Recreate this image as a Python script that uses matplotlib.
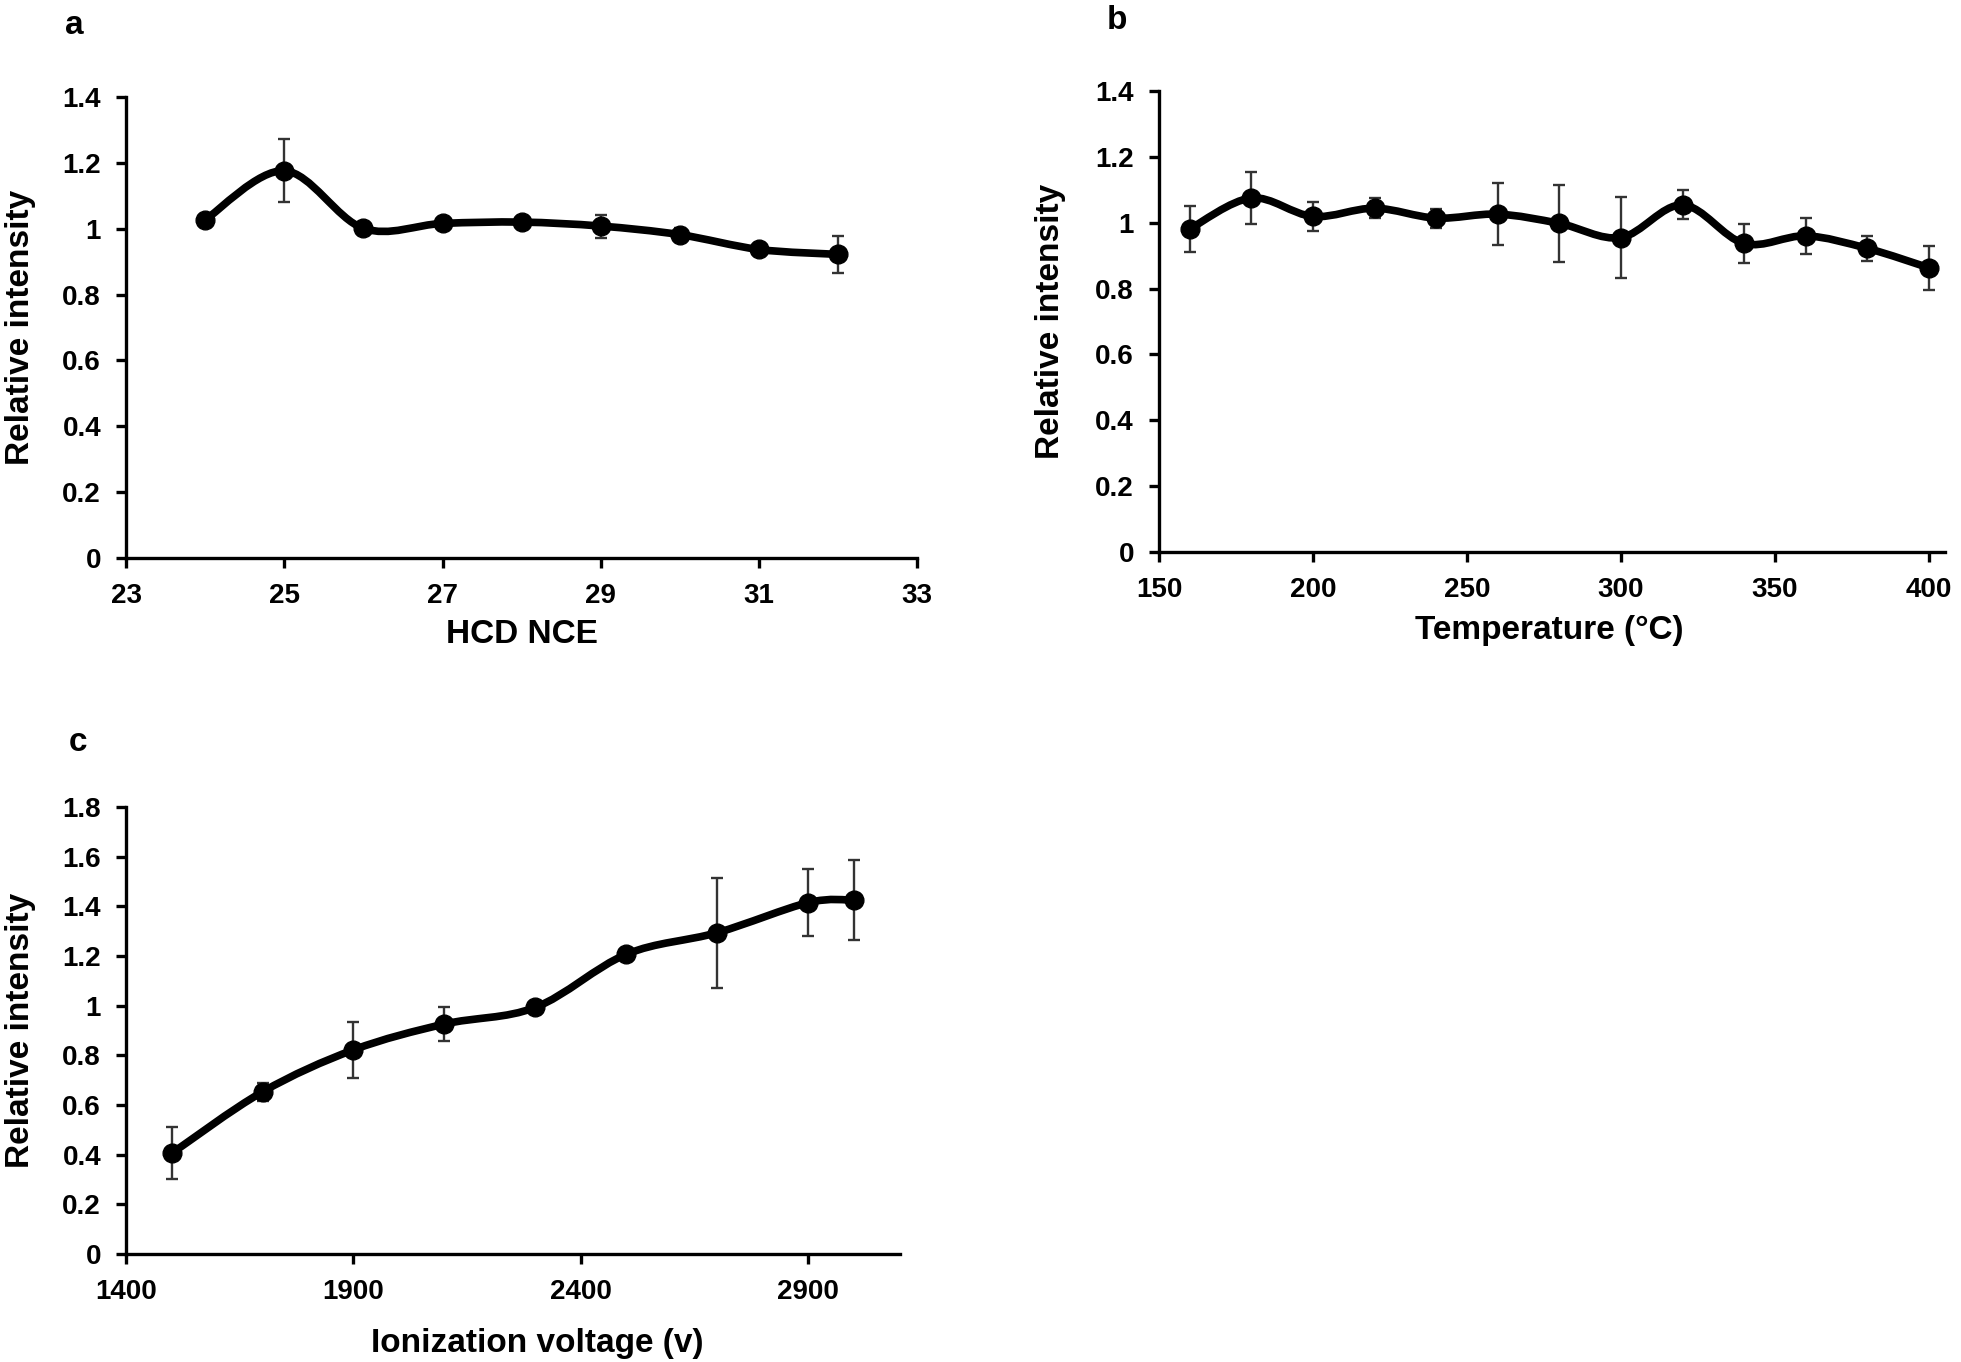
import numpy as np
import matplotlib
matplotlib.use("Agg")
import matplotlib.pyplot as plt
from matplotlib.path import Path
from matplotlib.patches import PathPatch

plt.rcParams['font.family'] = ['Liberation Sans', 'DejaVu Sans']
plt.rcParams['font.weight'] = 'bold'

# panel a - HCD NCE
nce = [24, 25, 26, 27, 28, 29, 30, 31, 32]
nce_val = [1.027, 1.176, 1.001, 1.016, 1.020, 1.008, 0.982, 0.937, 0.922]
nce_err = [0.0, 0.095, 0.0, 0.0, 0.0, 0.035, 0.02, 0.01, 0.056]

# panel b - temperature
temp = [160, 180, 200, 220, 240, 260, 280, 300, 320, 340, 360, 380, 400]
temp_val = [0.981, 1.075, 1.019, 1.044, 1.014, 1.026, 0.998, 0.955, 1.054,
            0.937, 0.960, 0.922, 0.863]
temp_err = [0.071, 0.080, 0.045, 0.030, 0.029, 0.094, 0.117, 0.122, 0.044,
            0.060, 0.055, 0.039, 0.066]

# panel c - ionization voltage
volt = [1500, 1700, 1900, 2100, 2300, 2500, 2700, 2900, 3000]
volt_val = [0.405, 0.653, 0.822, 0.926, 0.993, 1.207, 1.294, 1.415, 1.425]
volt_err = [0.105, 0.035, 0.113, 0.07, 0.0, 0.0, 0.222, 0.134, 0.16]


def smooth_path(x, y):
    # excel-like smoothed line as cubic bezier segments
    n = len(x)
    verts = [(x[0], y[0])]
    codes = [Path.MOVETO]
    for i in range(n - 1):
        xa, ya = (x[i - 1], y[i - 1]) if i > 0 else (x[i], y[i])
        xd, yd = (x[i + 2], y[i + 2]) if i + 2 < n else (x[i + 1], y[i + 1])
        c1 = (x[i] + (x[i + 1] - xa) / 6, y[i] + (y[i + 1] - ya) / 6)
        c2 = (x[i + 1] - (xd - x[i]) / 6, y[i + 1] - (yd - y[i]) / 6)
        verts += [c1, c2, (x[i + 1], y[i + 1])]
        codes += [Path.CURVE4] * 3
    return Path(verts, codes)


def draw(ax, x, y, err, xlim, ylim, xticks, yticks):
    ax.errorbar(x, y, yerr=err, fmt='none', ecolor='#333333', elinewidth=1.7,
                capsize=4, capthick=1.7, zorder=2)
    ax.add_patch(PathPatch(smooth_path(x, y), fill=False, lw=5.5,
                           edgecolor='black', capstyle='round', zorder=3))
    ax.plot(x, y, 'o', color='black', ms=13.5, zorder=4)
    ax.set_xlim(*xlim)
    ax.set_ylim(*ylim)
    ax.set_xticks(xticks)
    ax.set_yticks(yticks)
    ax.set_yticklabels([f'{v:g}' for v in yticks])
    for s in ['top', 'right']:
        ax.spines[s].set_visible(False)
    for s in ['left', 'bottom']:
        ax.spines[s].set_linewidth(2.4)
    ax.tick_params(direction='out', length=7, width=2.4, labelsize=20)
    ax.tick_params(axis='y', pad=11)
    ax.tick_params(axis='x', pad=11)


fig = plt.figure(figsize=(19.61, 13.62), dpi=100)

ax1 = fig.add_axes([0.0643, 0.5903, 0.4034, 0.3385])
draw(ax1, nce, nce_val, nce_err, (23, 33), (0, 1.4),
     [23, 25, 27, 29, 31, 33], np.round(np.arange(0, 1.41, 0.2), 1))

ax2 = fig.add_axes([0.5910, 0.5947, 0.4008, 0.3385])
draw(ax2, temp, temp_val, temp_err, (150, 405.2), (0, 1.4),
     [150, 200, 250, 300, 350, 400], np.round(np.arange(0, 1.41, 0.2), 1))

ax3 = fig.add_axes([0.0643, 0.0793, 0.3947, 0.3282])
draw(ax3, volt, volt_val, volt_err, (1400, 3102), (0, 1.8),
     [1400, 1900, 2400, 2900], np.round(np.arange(0, 1.81, 0.2), 1))

lab = dict(fontsize=24, fontweight='bold', ha='center', va='center')
fig.text(0.0105, 0.760, 'Relative intensity', rotation=90, **lab)
fig.text(0.5355, 0.764, 'Relative intensity', rotation=90, **lab)
fig.text(0.0105, 0.2437, 'Relative intensity', rotation=90, **lab)
fig.text(0.266, 0.534, 'HCD NCE', **lab)
fig.text(0.790, 0.537, 'Temperature (°C)', **lab)
fig.text(0.274, 0.0135, 'Ionization voltage (v)', **lab)

fig.text(0.038, 0.981, 'a', **lab)
fig.text(0.5696, 0.985, 'b', **lab)
fig.text(0.0398, 0.455, 'c', **lab)

plt.savefig('out.png', dpi=100)
